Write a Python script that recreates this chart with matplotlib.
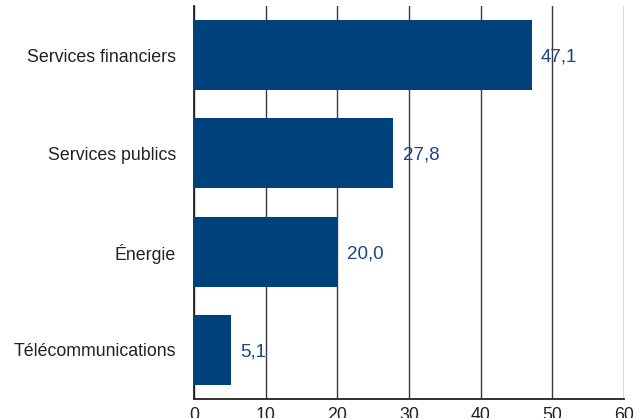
import matplotlib
matplotlib.use("Agg")
import matplotlib.pyplot as plt

categories = ["Services financiers", "Services publics", "Énergie", "Télécommunications"]
values = [47.1, 27.8, 20.0, 5.1]
labels = ["47,1", "27,8", "20,0", "5,1"]
xticks = [0, 10, 20, 30, 40, 50, 60]

plt.rcParams['font.family'] = ['Liberation Sans', 'DejaVu Sans']

W, H = 637, 418
fig = plt.figure(figsize=(W / 100, H / 100), dpi=100)
left, right, top, bottom = 194, 624, 6, 399
ax = fig.add_axes([left / W, (H - bottom) / H, (right - left) / W, (bottom - top) / H])

bar_color = "#00427c"
pos = list(range(len(categories)))[::-1]
ax.barh(pos, values, height=0.71, color=bar_color, zorder=3)
for p, v, t in zip(pos, values, labels):
    ax.text(v + 1.3, p - 0.02, t, va="center", ha="left", color="#1a4683", fontsize=13.5, zorder=4)

ax.set_xlim(0, 60)
ax.set_ylim(-0.5, 3.5)
ax.set_xticks(xticks)
ax.set_xticklabels([str(x) for x in xticks])
ax.set_yticks(pos)
ax.set_yticklabels(categories)
ax.tick_params(axis="both", length=0, labelsize=12.8, colors="#222222")
ax.tick_params(axis="y", pad=13)
ax.tick_params(axis="x", pad=6)
ax.xaxis.grid(True, color="#3a3a3a", linewidth=1)
ax.set_axisbelow(True)
for s in ["top", "right"]:
    ax.spines[s].set_visible(False)
for s in ["left", "bottom"]:
    ax.spines[s].set_color("#222222")
    ax.spines[s].set_linewidth(1.3)

fig.savefig("out.png", dpi=100)
